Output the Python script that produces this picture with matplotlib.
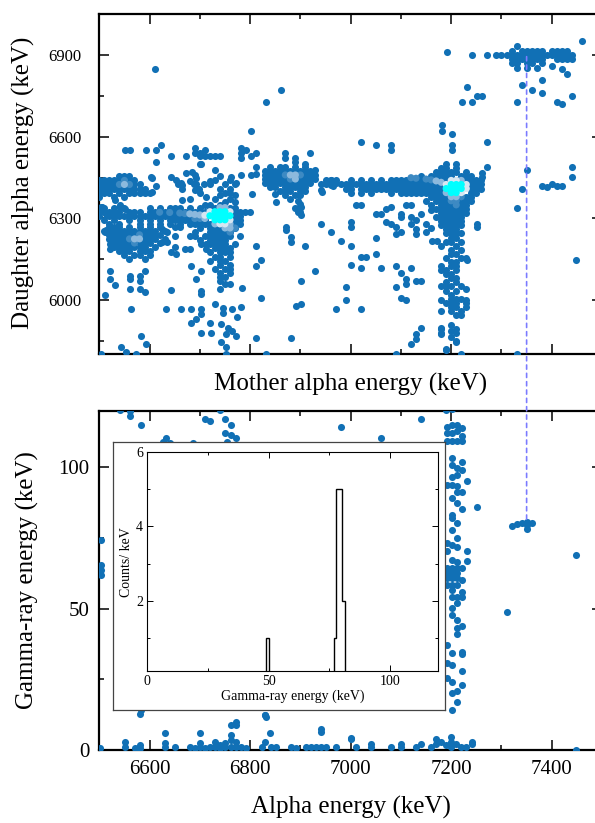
import matplotlib.pyplot as plt
from matplotlib.colors import ListedColormap, BoundaryNorm
from matplotlib.patches import ConnectionPatch
from matplotlib.ticker import MultipleLocator

plt.rcParams['font.family'] = ['Liberation Serif', 'DejaVu Serif']

# ---------------- top panel: mother vs daughter alpha energy (keV) ----------------
# dense bands, one row per daughter energy -> list of mother energies
left_block = {
    6455: [6540, 6550, 6560],
    6440: [6500, 6510, 6520, 6530, 6540, 6550, 6560, 6570],
    6425: [6500, 6510, 6520, 6530, 6540, 6550, 6560, 6570, 6580],
    6410: [6500, 6510, 6520, 6530, 6540, 6550, 6560, 6570, 6580, 6590],
    6395: [6500, 6510, 6520, 6540, 6560, 6570, 6580, 6590, 6600],
    6380: [6500, 6530, 6550],
}
band_6300 = {
    6340: [6510, 6530, 6550, 6600, 6620, 6640, 6650, 6660, 6680, 6700, 6720, 6730, 6740, 6750, 6760, 6770],
    6325: [6500, 6510, 6520, 6530, 6540, 6560, 6570, 6580, 6600, 6610, 6620, 6630, 6640, 6650, 6660,
           6670, 6680, 6690, 6700, 6710, 6770, 6780, 6790, 6800],
    6310: [6500, 6520, 6530, 6540, 6550, 6560, 6570, 6580, 6590, 6600, 6610, 6620, 6630, 6640, 6650,
           6660, 6670, 6680, 6690, 6700, 6710, 6770, 6780],
    6295: [6510, 6530, 6560, 6580, 6600, 6620, 6640, 6650, 6660, 6670, 6680, 6690, 6700, 6710, 6770, 6780],
    6280: [6520, 6540, 6580, 6600, 6620, 6640, 6660, 6680, 6690, 6700, 6710, 6720, 6760, 6770, 6780],
}
side_cluster = {
    6270: [6520, 6530, 6540, 6560, 6580, 6600, 6620],
    6255: [6510, 6520, 6530, 6540, 6550, 6560, 6570, 6580, 6590, 6600, 6610, 6630],
    6240: [6520, 6530, 6540, 6550, 6560, 6570, 6580, 6590, 6600, 6610, 6620],
    6225: [6520, 6530, 6540, 6550, 6560, 6570, 6580, 6590, 6600, 6610, 6630],
    6210: [6530, 6540, 6550, 6560, 6570, 6580, 6590, 6600, 6620],
    6195: [6530, 6540, 6550, 6560, 6570, 6580, 6590, 6610],
    6180: [6540, 6550, 6560, 6580, 6590, 6600],
    6165: [6550, 6570, 6580, 6600],
    6150: [6560, 6590],
}
column_6740 = {
    6265: [6700, 6720, 6730, 6740, 6750, 6770],
    6250: [6690, 6720, 6730, 6740, 6750, 6760],
    6235: [6710, 6720, 6730, 6740, 6750, 6760, 6780],
    6220: [6700, 6720, 6730, 6740, 6750],
    6205: [6720, 6730, 6740, 6750, 6770],
    6190: [6730, 6740, 6750, 6760],
    6175: [6720, 6740, 6750, 6760],
    6160: [6730, 6740, 6760],
    6145: [6720, 6740, 6750],
    6130: [6740, 6760],
    6115: [6730, 6750, 6760],
    6100: [6740, 6760],
    6085: [6740, 6750],
    6070: [6740],
    6060: [6750, 6760],
    6040: [6740],
}
above_6740 = {
    6455: [6740],
    6440: [6730, 6760],
    6425: [6750, 6770],
    6410: [6740, 6760],
    6395: [6750, 6760],
    6385: [6740, 6770],
    6370: [6730, 6760],
    6360: [6750, 6770],
    6350: [6710, 6720, 6740],
}
cluster_6880 = {
    6490: [6840, 6870, 6890, 6910],
    6475: [6830, 6840, 6850, 6860, 6870, 6880, 6890, 6900, 6910, 6920],
    6460: [6830, 6840, 6850, 6860, 6870, 6880, 6890, 6900, 6910, 6920, 6930],
    6445: [6830, 6840, 6850, 6860, 6870, 6880, 6890, 6900, 6910, 6920, 6930],
    6430: [6830, 6840, 6850, 6860, 6870, 6880, 6890, 6900, 6910, 6920],
    6415: [6840, 6850, 6870, 6880, 6890, 6900, 6910],
    6400: [6860, 6870, 6880, 6900, 6910],
    6385: [6870, 6890, 6900],
    6370: [6880],
    6355: [6900],
    6340: [6890],
    6325: [6900],
}
band_6420 = {
    6500: [7190, 7210],
    6485: [7180, 7190, 7210],
    6470: [7170, 7180, 7190, 7200, 7210, 7230],
    6455: [7140, 7160, 7170, 7180, 7190, 7200, 7220, 7230, 7240],
    6440: [6950, 6960, 6970, 7000, 7020, 7040, 7060, 7080, 7090, 7100, 7110, 7120, 7130, 7140, 7150,
           7160, 7170, 7180, 7190, 7200, 7210, 7220, 7230, 7240, 7250, 7260],
    6425: [6940, 6960, 6980, 6990, 7000, 7010, 7020, 7030, 7040, 7050, 7060, 7070, 7080, 7090, 7100,
           7110, 7120, 7130, 7140, 7150, 7160, 7170, 7180, 7190, 7230, 7240, 7250, 7260],
    6410: [6990, 7000, 7020, 7030, 7040, 7050, 7060, 7070, 7080, 7090, 7100, 7110, 7120, 7130, 7140,
           7150, 7160, 7170, 7180, 7240, 7250, 7260],
    6395: [7000, 7020, 7040, 7080, 7100, 7110, 7120, 7130, 7140, 7150, 7160, 7170, 7180, 7240, 7250],
    6380: [7160, 7170, 7180, 7190, 7230, 7240],
    6365: [7150, 7170, 7180, 7190, 7200, 7210, 7220, 7230, 7240],
    6350: [7160, 7180, 7190, 7200, 7210, 7220, 7230],
    6335: [7170, 7180, 7190, 7200, 7210, 7220, 7230],
    6320: [7180, 7190, 7200, 7210, 7220, 7230],
    6305: [7170, 7180, 7190, 7200, 7210, 7220],
    6290: [7180, 7190, 7200, 7210, 7220],
    6275: [7180, 7190, 7200, 7210, 7220],
    6260: [7190, 7200, 7210],
    6245: [7190, 7200, 7210, 7220],
}
column_7200 = {
    6230: [7200, 7210], 6215: [7190, 7200, 7220], 6200: [7180, 7210], 6185: [7200, 7220],
    6170: [7200, 7210], 6155: [7190, 7220, 7230], 6140: [7200, 7210], 6125: [7180, 7200, 7210],
    6110: [7180, 7190, 7210], 6095: [7190, 7200], 6080: [7200, 7210], 6065: [7190, 7210],
    6050: [7180, 7190, 7200, 7220], 6035: [7190, 7210], 6020: [7200], 6005: [7200, 7210, 7220],
    5990: [7190, 7200, 7210, 7230], 5975: [7200, 7210, 7230], 5960: [7200, 7220], 5945: [7210, 7220],
    5910: [7200], 5895: [7180, 7210], 5880: [7180, 7210], 5865: [7200], 5845: [7210], 5820: [7190],
    5800: [7220],
}
cluster_6900 = {
    6935: [7330],
    6915: [7320, 7340, 7350, 7360, 7370, 7380, 7400, 7410, 7420, 7430],
    6900: [7290, 7300, 7310, 7320, 7330, 7340, 7350, 7360, 7370, 7380, 7390, 7400, 7410, 7420, 7430, 7440],
    6885: [7320, 7330, 7340, 7350, 7360, 7370, 7380, 7410, 7420, 7430, 7440],
    6870: [7320, 7330, 7350, 7360, 7380],
    6855: [7330, 7350, 7370],
}
top_singles = [
    (6611, 6851), (6831, 6730), (6862, 6771), (6801, 6621), (6552, 6550), (6562, 6550), (6592, 6550),
    (6612, 6550), (6622, 6570), (6612, 6508), (6642, 6531), (6672, 6531), (6691, 6560), (6691, 6542),
    (6701, 6542), (6711, 6552), (6701, 6531), (6711, 6531), (6721, 6531), (6731, 6531), (6741, 6531),
    (6701, 6500), (6672, 6469), (6691, 6459), (6731, 6480), (6781, 6560), (6781, 6542), (6781, 6521),
    (6791, 6552), (6801, 6531), (6811, 6539), (6811, 6490), (6811, 6465), (6781, 6459), (6801, 6459),
    (6602, 6451), (6642, 6451), (6652, 6441), (6662, 6431), (6681, 6438), (6721, 6438), (6721, 6425),
    (6761, 6451), (6771, 6431), (6870, 6539), (6870, 6521), (6890, 6521), (6890, 6508), (6910, 6500),
    (6920, 6539), (6860, 6490), (6930, 6480), (6950, 6430), (6960, 6440), (6970, 6430),
    (6604, 6447), (6664, 6422), (6664, 6410), (6693, 6447), (6693, 6428), (6685, 6471), (6702, 6502),
    (6690, 6404), (6700, 6394), (6713, 6379), (6680, 6373), (6664, 6367), (6604, 6397), (6531, 6367),
    (6541, 6348), (6513, 6317), (6503, 6342), (6513, 6256), (6521, 6225), (6521, 6207), (6521, 6188),
    (6612, 6420), (6657, 6428), (6688, 6428), (6698, 6410), (6708, 6428), (6804, 6391), (6840, 6428),
    (6849, 6391), (6895, 6366), (6902, 6342), (6895, 6324), (6902, 6311), (6852, 6361), (6941, 6403),
    (6951, 6428), (6961, 6422), (6505, 6342), (6541, 6342), (6551, 6336), (6511, 6250),
    (6624, 6262), (6634, 6250), (6624, 6213), (6634, 6213), (6650, 6268), (6660, 6268), (6650, 6237),
    (6680, 6237), (6690, 6237), (6650, 6195), (6670, 6188), (6643, 6175), (6653, 6170), (6680, 6188),
    (6703, 6207), (6713, 6207), (6713, 6188), (6683, 6127), (6703, 6108), (6693, 6077), (6783, 6046),
    (6643, 6037), (6703, 6034), (6703, 6022), (6731, 5987), (6746, 5970), (6746, 5954), (6763, 5966),
    (6773, 5936), (6781, 5975), (6743, 5911), (6756, 5899), (6763, 5886), (6753, 5874), (6772, 5868),
    (6721, 5917), (6742, 5847), (6752, 5827), (6752, 5800), (6683, 5969), (6662, 5969), (6632, 5969),
    (6693, 5929), (6683, 5917), (6703, 5966), (6703, 5948), (6702, 5878), (6722, 5878), (6563, 5969),
    (6583, 5868), (6593, 5837), (6543, 5828), (6553, 5809), (6573, 5800), (6503, 5800), (6511, 6018),
    (6531, 6056), (6521, 6077), (6521, 6108), (6561, 6090), (6561, 6077), (6561, 6040), (6581, 6090),
    (6581, 6070), (6581, 6040), (6591, 6108), (6591, 6028), (6811, 6200), (6811, 6127), (6821, 6147),
    (6821, 6009), (6831, 5800), (6811, 5859), (6871, 6268), (6871, 6256), (6881, 6231), (6881, 6213),
    (6910, 6200), (6891, 5978), (6901, 5987), (6901, 6069), (6930, 6108), (6882, 5859), (6941, 6281),
    (6961, 6250), (6981, 6219), (6971, 5969),
    (7011, 6351), (7021, 6351), (7051, 6318), (7061, 6318), (7071, 6336), (7081, 6342), (7001, 6287),
    (7001, 6268), (7071, 6287), (7081, 6278), (7091, 6268), (7101, 6318), (7101, 6305), (7120, 6305),
    (7130, 6293), (7120, 6281), (7130, 6262), (7130, 6244), (7091, 6244), (7101, 6250), (7150, 6280),
    (7150, 6250), (7160, 6265), (7161, 6219), (7171, 6219), (7140, 6318), (7160, 6330), (7110, 6348),
    (7120, 6348), (7051, 6229), (7001, 6198), (7051, 6170), (7021, 6157), (7031, 6157), (7001, 6129),
    (7021, 6118), (7061, 6118), (7091, 6126), (7101, 6098), (7110, 6077), (7110, 6059), (7120, 6118),
    (7130, 6069), (7140, 6069), (7091, 6049), (7101, 6009), (7110, 5999), (6991, 6049), (6991, 5999),
    (7021, 5969), (7140, 5899), (7130, 5877), (7130, 5858), (7120, 5837), (7190, 5816), (7091, 5800),
    (7251, 6280), (7251, 6268), (7231, 6149), (7330, 5800), (7180, 5899), (7180, 5874), (7200, 5886),
    (7210, 5849), (7230, 6040), (7230, 6000), (7180, 5960), (7180, 6000),
    (7191, 6911), (7241, 6900), (7271, 6900), (7460, 6952), (7340, 6792), (7330, 6730), (7360, 6771),
    (7380, 6810), (7380, 6760), (7400, 6862), (7420, 6851), (7430, 6832), (7410, 6730), (7420, 6720),
    (7440, 6751), (7231, 6782), (7221, 6730), (7241, 6730), (7251, 6751), (7261, 6751), (7181, 6642),
    (7181, 6623), (7201, 6611), (7201, 6570), (7201, 6552), (7271, 6580), (7021, 6580), (7051, 6570),
    (7081, 6570), (7081, 6552), (7350, 6480), (7440, 6490), (7440, 6451), (7271, 6490), (7261, 6469),
    (7261, 6451), (7340, 6410), (7330, 6340), (7380, 6420), (7390, 6415), (7400, 6425), (7410, 6420),
    (7420, 6420), (7449, 6149), (6964, 6421), (6942, 6398),
]
# bins with more than one count (mother, daughter, counts)
top_hot = [
    (6540, 6425, 2), (6550, 6425, 3), (6550, 6440, 2), (6560, 6425, 2),
    (6620, 6323, 2), (6640, 6322, 2), (6660, 6320, 2), (6670, 6318, 2), (6680, 6317, 3), (6690, 6315, 3),
    (6700, 6313, 3), (6710, 6312, 4), (6690, 6300, 2), (6700, 6300, 2), (6710, 6300, 3),
    (6720, 6325, 4), (6730, 6325, 6), (6740, 6325, 8), (6750, 6325, 8), (6760, 6325, 5),
    (6720, 6310, 6), (6730, 6310, 10), (6740, 6310, 12), (6750, 6310, 12), (6760, 6310, 7),
    (6730, 6295, 8), (6740, 6295, 10), (6750, 6295, 9), (6760, 6295, 4),
    (6730, 6280, 3), (6740, 6280, 5), (6750, 6280, 4), (6760, 6280, 3),
    (6740, 6340, 3), (6750, 6340, 3), (6750, 6265, 3), (6760, 6265, 3), (6770, 6265, 2), (6760, 6250, 2),
    (6560, 6225, 2), (6570, 6225, 3), (6580, 6225, 3), (6570, 6210, 2), (6580, 6240, 2),
    (6870, 6460, 2), (6880, 6460, 3), (6890, 6460, 3), (6900, 6460, 2), (6880, 6445, 2), (6890, 6445, 3),
    (7120, 6450, 2), (7130, 6448, 2), (7150, 6445, 2), (7160, 6442, 2), (7170, 6438, 3), (7180, 6433, 3),
    (7200, 6440, 4), (7210, 6440, 5), (7220, 6440, 3),
    (7190, 6425, 5), (7200, 6425, 10), (7210, 6425, 12), (7220, 6425, 8), (7230, 6425, 4),
    (7190, 6410, 6), (7200, 6410, 12), (7210, 6410, 12), (7220, 6410, 9), (7230, 6410, 4),
    (7190, 6395, 3), (7200, 6395, 7), (7210, 6395, 8), (7220, 6395, 5),
    (7200, 6380, 3), (7210, 6380, 3), (7220, 6380, 2), (7200, 6365, 2), (7210, 6365, 2), (7210, 6350, 2),
]

# ---------------- bottom panel: alpha energy vs gamma-ray energy (keV) ----------------
bottom_points = [
    (6542, 120.4), (6562, 119.8), (6562, 118.0), (6582, 115.1), (6632, 110.3), (6711, 117.2), (6721, 116.2),
    (6741, 120.4), (6751, 117.2), (6761, 115.1), (6751, 112.1), (6761, 111.5), (6771, 110.3), (6755, 109.0),
    (6981, 114.2), (7061, 110.3), (7140, 117.2), (7190, 120.3), (7201, 120.5),
    (6503, 74.3), (6503, 65.5), (6503, 63.7), (6503, 61.9), (6582, 14.2), (6627, 109.0), (6641, 108.5),
    (6687, 108.5), (6833, 108.0), (6581, 12.8), (6829, 12.5), (6771, 10.0), (6771, 8.8), (6761, 8.8),
    (6830, 12.4), (6840, 5.9), (6830, 2.9),
]
zero_row = [
    (6551, 2.9), (6551, 1.2), (6571, 0.6), (6581, 1.8), (6581, 0.6), (6630, 5.9), (6630, 2.4), (6630, 1.2),
    (6650, 1.2), (6681, 1.2), (6701, 5.9), (6701, 2.4), (6701, 1.2), (6721, 1.2), (6731, 2.9), (6731, 1.2),
    (6741, 1.8), (6751, 2.4), (6751, 1.2), (6761, 5.3), (6761, 3.5), (6761, 1.2), (6771, 2.9), (6771, 1.2),
    (6781, 1.2), (6823, 1.2), (6832, 11.8), (6842, 1.2), (6852, 1.2), (6882, 1.2), (6892, 0.6),
    (6912, 1.2), (6922, 1.2), (6932, 1.2), (6941, 6.5), (6941, 7.3), (6941, 1.2), (6951, 1.2), (6971, 1.2),
    (7001, 3.9), (7001, 4.3), (7011, 0.9), (7041, 2.0), (7041, 0.9), (7081, 0.9), (7101, 2.0), (7101, 0.9),
    (7130, 0.9), (7140, 2.0), (7160, 0.9), (7170, 3.9), (7170, 2.0), (7180, 2.7), (7190, 1.8), (7200, 4.7),
    (7200, 2.9), (7200, 1.2), (7210, 2.0), (7220, 1.2), (7230, 1.2), (7241, 2.9), (7241, 2.0), (7449, 0.0),
    (6741, 0.6), (6711, 0.6), (6690, 0.6), (6791, 0.6), (6501, 0.6),
]
column_gamma = [
    (7191, 114.2), (7201, 115.0), (7211, 114.8), (7221, 114.0), (7191, 112.1), (7201, 112.1), (7211, 112.7),
    (7221, 110.9), (7191, 109.1), (7201, 109.1), (7211, 109.1), (7221, 109.1), (7201, 103.2), (7221, 102.0),
    (7201, 100.9), (7211, 99.7), (7221, 99.1), (7201, 96.7), (7211, 97.1), (7191, 93.8), (7201, 93.8),
    (7211, 93.2), (7211, 91.2), (7221, 91.2), (7201, 89.1), (7231, 95.0), (7211, 87.3), (7221, 85.3),
    (7251, 86.1), (7201, 83.2), (7201, 82.0), (7211, 80.2), (7201, 77.9), (7211, 75.1), (7191, 73.1),
    (7201, 72.5), (7211, 71.9), (7231, 70.2), (7231, 67.0), (7191, 70.2), (7201, 67.2), (7211, 66.6),
    (7191, 64.3), (7201, 64.3), (7211, 64.3), (7221, 64.3), (7191, 62.5), (7201, 62.5), (7211, 62.5),
    (7201, 60.7), (7191, 60.7), (7211, 60.7), (7221, 60.1), (7191, 58.4), (7201, 58.4), (7211, 58.4),
    (7201, 56.6), (7221, 56.0), (7221, 54.2), (7211, 54.2), (7201, 54.2), (7211, 51.9), (7201, 50.1),
    (7201, 47.7), (7211, 46.0), (7221, 44.0), (7211, 43.0), (7211, 40.9), (7191, 37.1), (7201, 34.2),
    (7221, 34.8), (7221, 33.8), (7191, 30.6), (7201, 30.0), (7221, 27.9), (7191, 25.3), (7201, 24.2),
    (7211, 20.9), (7201, 20.0), (7221, 23.0), (7211, 17.1), (7201, 14.1),
]
right_points = [
    (7310, 48.9), (7449, 69.0), (7320, 79.1), (7330, 79.8), (7340, 80.2), (7350, 80.8), (7360, 80.2),
    (7350, 78.0), (7350, 79.5),
]

# inset spectrum (gamma-ray energy bin edges, counts/keV)
hist_edges = [0, 48.8, 50.0, 77.1, 78.0, 80.2, 81.4, 120]
hist_counts = [0, 1, 0, 1, 5, 2, 0]

# coincidence marker: alpha energy, daughter energy, gamma energy
line_alpha, line_daughter, line_gamma = 7350, 6895, 80.5

BLUE = '#1170b5'
DOT = 26
count_cmap = ListedColormap([BLUE, '#3d8ac3', '#8cb9dd', '#d6e6f2', '#00ffff'])
count_norm = BoundaryNorm([0.5, 1.5, 2.5, 3.5, 5.5, 100], count_cmap.N)


def rows_to_xy(rows):
    xs, ys = [], []
    for y, xlist in rows.items():
        xs += xlist
        ys += [y] * len(xlist)
    return xs, ys


fig = plt.figure(figsize=(5.95, 8.23), dpi=100)
ax_top = fig.add_axes([0.1669, 0.5693, 0.8449, 0.4131])
ax_bot = fig.add_axes([0.1669, 0.0887, 0.8449, 0.4123])

# top scatter
for rows in [left_block, band_6300, side_cluster, column_6740, above_6740, cluster_6880,
             band_6420, column_7200, cluster_6900]:
    xs, ys = rows_to_xy(rows)
    ax_top.scatter(xs, ys, s=DOT, color=BLUE, lw=0, zorder=3)
ax_top.scatter([p[0] for p in top_singles], [p[1] for p in top_singles], s=DOT, color=BLUE, lw=0, zorder=3)
hot = sorted(top_hot, key=lambda p: p[2])
ax_top.scatter([p[0] for p in hot], [p[1] for p in hot], c=[p[2] for p in hot], cmap=count_cmap,
               norm=count_norm, s=DOT, lw=0, zorder=4)

# bottom scatter
for pts in [bottom_points, zero_row, column_gamma, right_points]:
    ax_bot.scatter([p[0] for p in pts], [p[1] for p in pts], s=DOT, color=BLUE, lw=0, zorder=3)

for ax in (ax_top, ax_bot):
    ax.set_xlim(6500, 7500)
    ax.xaxis.set_major_locator(MultipleLocator(200))
    ax.xaxis.set_minor_locator(MultipleLocator(100))
    ax.tick_params(which='both', direction='in', top=True, right=True, width=1.1)
    ax.tick_params(which='major', length=7)
    ax.tick_params(which='minor', length=3.6)
    for sp in ax.spines.values():
        sp.set_linewidth(1.6)

ax_top.set_ylim(5800, 7050)
ax_top.yaxis.set_major_locator(MultipleLocator(300))
ax_top.yaxis.set_minor_locator(MultipleLocator(150))
ax_top.tick_params(labelbottom=False, labelsize=12)
ax_top.tick_params(axis='y', pad=13)

ax_bot.set_ylim(0, 120)
ax_bot.yaxis.set_major_locator(MultipleLocator(50))
ax_bot.yaxis.set_minor_locator(MultipleLocator(25))
ax_bot.tick_params(labelsize=15, pad=7)

fig.text(0.0387, 0.7776, 'Daughter alpha energy (keV)', rotation=90, ha='center', va='center', fontsize=18)
fig.text(0.589, 1 - 384 / 823, 'Mother alpha energy (keV)', ha='center', va='center', fontsize=18)
fig.text(0.0454, 1 - 580 / 823, 'Gamma-ray energy (keV)', rotation=90, ha='center', va='center', fontsize=18)
fig.text(0.589, 1 - 807 / 823, 'Alpha energy (keV)', ha='center', va='center', fontsize=18)

# inset frame and spectrum
frame = fig.add_axes([112.5 / 595, 1 - 710 / 823, 332.5 / 595, 268 / 823])
frame.set_xticks([])
frame.set_yticks([])
for sp in frame.spines.values():
    sp.set_linewidth(0.9)
    sp.set_color('#444444')

ax_in = fig.add_axes([147.3 / 595, 1 - 671 / 823, 291 / 595, 218.7 / 823])
ax_in.stairs(hist_counts, hist_edges, color='black', lw=1.0)
ax_in.set_xlim(0, 120)
ax_in.set_ylim(0.1, 6)
ax_in.xaxis.set_major_locator(MultipleLocator(50))
ax_in.xaxis.set_minor_locator(MultipleLocator(25))
ax_in.yaxis.set_major_locator(MultipleLocator(2))
ax_in.yaxis.set_minor_locator(MultipleLocator(1))
ax_in.tick_params(which='both', direction='in', top=True, right=True, labelsize=10, pad=3, width=0.7)
ax_in.tick_params(which='major', length=4)
ax_in.tick_params(which='minor', length=2.5)
for sp in ax_in.spines.values():
    sp.set_linewidth(0.8)
ax_in.set_xlabel('Gamma-ray energy (keV)', fontsize=10, labelpad=1)
ax_in.set_ylabel('Counts/ keV', fontsize=10, labelpad=2)

# dashed guide from the daughter cluster down to the gamma line
con = ConnectionPatch(xyA=(line_alpha, line_daughter), coordsA=ax_top.transData,
                      xyB=(line_alpha, line_gamma), coordsB=ax_bot.transData,
                      color='#7b7bff', lw=1.2, linestyle=(0, (2.5, 2.5)), zorder=5)
fig.add_artist(con)

fig.savefig('out.png', dpi=100)
